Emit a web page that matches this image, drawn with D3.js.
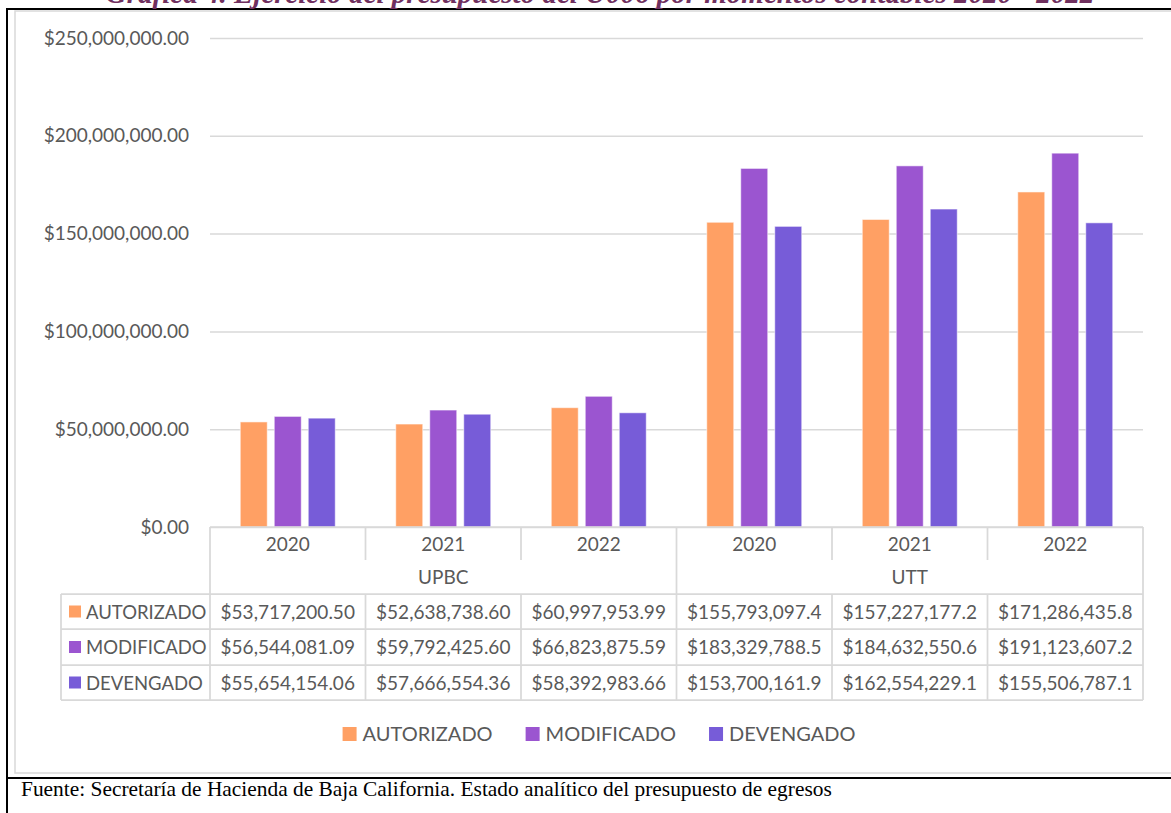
<!DOCTYPE html>
<html>
<head>
<meta charset="utf-8">
<script src="https://cdn.jsdelivr.net/npm/d3@7/dist/d3.min.js"></script>
<style>
  html, body { margin: 0; padding: 0; background: #fff; }
  svg { display: block; }
</style>
</head>
<body>
<svg id="chart" width="1171" height="813"></svg>
<script>
// datos
const groups = ['UPBC', 'UTT'];
const years = ['2020', '2021', '2022'];
const seriesNames = ['AUTORIZADO', 'MODIFICADO', 'DEVENGADO'];
const seriesColors = ['#FFA064', '#9B55D0', '#775CD8'];
const autorizado = [53717200.50, 52638738.60, 60997953.99, 155793097.4, 157227177.2, 171286435.8];
const modificado = [56544081.09, 59792425.60, 66823875.59, 183329788.5, 184632550.6, 191123607.2];
const devengado  = [55654154.06, 57666554.36, 58392983.66, 153700161.9, 162554229.1, 155506787.1];
const yTicks = [0, 50000000, 100000000, 150000000, 200000000, 250000000];

const seriesValues = [autorizado, modificado, devengado];
const cats = groups.flatMap(g => years.map(y => g + '|' + y));

const W = 1171, H = 813;
const plotL = 210, plotR = 1143, plotT = 38, plotB = 527;
const tableL = 61;
const rowY = [594, 629, 665, 700];
const gridColor = '#d9d9d9';
const textColor = '#595959';
const font = 'Lato, "Open Sans", sans-serif';

const svg = d3.select('#chart');

// marco de la tabla del documento
svg.append('line').attr('x1', 6).attr('x2', W).attr('y1', 9).attr('y2', 9)
  .attr('stroke', '#000').attr('stroke-width', 2);
svg.append('line').attr('x1', 7).attr('x2', 7).attr('y1', 8).attr('y2', H)
  .attr('stroke', '#000').attr('stroke-width', 2);
svg.append('line').attr('x1', 6).attr('x2', W).attr('y1', 778).attr('y2', 778)
  .attr('stroke', '#000').attr('stroke-width', 2);

// borde del area del grafico
svg.append('rect').attr('x', 15).attr('y', 11).attr('width', 1175).attr('height', 762)
  .attr('fill', 'none').attr('stroke', gridColor).attr('stroke-width', 1.5);

// titulo (cortado arriba, como en el documento)
svg.append('text')
  .attr('x', 600).attr('y', 3)
  .attr('text-anchor', 'middle')
  .attr('font-family', '"Liberation Serif", "Times New Roman", serif')
  .attr('font-size', '29px').attr('font-weight', 'bold').attr('font-style', 'italic')
  .attr('fill', '#70305F')
  .text('Gráfica 4. Ejercicio del presupuesto del U006 por momentos contables 2020 - 2022');

const y = d3.scaleLinear().domain([0, 250000000]).range([plotB, plotT]);
const x0 = d3.scaleBand().domain(cats).range([plotL, plotR]);
const xs = d3.scaleBand().domain(seriesNames).range([0, x0.bandwidth()])
  .paddingInner(0.206).paddingOuter(0.89);

const money2 = d3.format(',.2f');
const money1 = d3.format(',.1f');
const fmtAxis = v => '$' + money2(v);
// la celda de Excel recorta los montos grandes a un decimal
const fmtCell = v => '$' + (v >= 100000000 ? money1(v) : money2(v));

// eje y + lineas de cuadricula
const yAxis = svg.append('g')
  .attr('transform', `translate(${plotL},0)`)
  .call(d3.axisLeft(y).tickValues(yTicks).tickFormat(fmtAxis)
    .tickSize(-(plotR - plotL)).tickPadding(21));
yAxis.select('.domain').remove();
yAxis.selectAll('line').attr('stroke', gridColor).attr('stroke-width', 1.5);
yAxis.selectAll('text').attr('fill', textColor).attr('font-size', '19px').attr('font-family', font);

// barras
const barData = cats.flatMap((c, i) => seriesNames.map((s, j) => ({ cat: c, s, v: seriesValues[j][i], color: seriesColors[j] })));
svg.append('g').selectAll('rect').data(barData).join('rect')
  .attr('x', d => x0(d.cat) + xs(d.s))
  .attr('y', d => y(d.v))
  .attr('width', xs.bandwidth())
  .attr('height', d => y(0) - y(d.v))
  .attr('fill', d => d.color)
  .attr('stroke', '#fff').attr('stroke-opacity', 0.55).attr('stroke-width', 1);

// tabla de datos
const tbl = svg.append('g')
  .attr('stroke', gridColor).attr('stroke-width', 1.75).attr('fill', 'none');

tbl.append('line').attr('x1', plotL).attr('x2', plotR).attr('y1', plotB).attr('y2', plotB);
rowY.forEach(ry => tbl.append('line').attr('x1', tableL).attr('x2', plotR).attr('y1', ry).attr('y2', ry));

// separadores verticales
const bounds = cats.map(c => x0(c)).concat([plotR]);
bounds.forEach((bx, i) => {
  const isGroupEdge = i % years.length === 0;
  tbl.append('line').attr('x1', bx).attr('x2', bx)
    .attr('y1', plotB)
    .attr('y2', isGroupEdge ? rowY[3] : 560);
  if (!isGroupEdge) {
    tbl.append('line').attr('x1', bx).attr('x2', bx).attr('y1', rowY[0]).attr('y2', rowY[3]);
  }
});
tbl.append('line').attr('x1', tableL).attr('x2', tableL).attr('y1', rowY[0]).attr('y2', rowY[3]);

const txt = svg.append('g')
  .attr('font-family', font).attr('font-size', '19px').attr('fill', textColor);

// anios
txt.selectAll('text.year').data(cats).join('text').attr('class', 'year')
  .attr('x', c => x0(c) + x0.bandwidth() / 2).attr('y', 551)
  .attr('text-anchor', 'middle')
  .text(c => c.split('|')[1]);

// grupos
txt.selectAll('text.group').data(groups).join('text').attr('class', 'group')
  .attr('x', g => x0(g + '|' + years[0]) + x0.bandwidth() * years.length / 2).attr('y', 584)
  .attr('text-anchor', 'middle')
  .text(g => g);

// filas
seriesNames.forEach((s, j) => {
  const mid = (rowY[j] + rowY[j + 1]) / 2;
  svg.append('rect').attr('x', 69).attr('y', mid - 6).attr('width', 12).attr('height', 12)
    .attr('fill', seriesColors[j]);
  txt.append('text').attr('x', 86).attr('y', mid + 7).attr('font-size', '18.5px').text(s);
  cats.forEach((c, i) => {
    txt.append('text')
      .attr('x', x0(c) + x0.bandwidth() / 2).attr('y', mid + 7)
      .attr('text-anchor', 'middle')
      .text(fmtCell(seriesValues[j][i]));
  });
});

// leyenda
const leg = svg.append('g').attr('font-family', font).attr('font-size', '20px').attr('fill', textColor);
let lx = 0;
seriesNames.forEach((s, j) => {
  const g = leg.append('g');
  g.append('rect').attr('x', 0).attr('y', -14).attr('width', 14).attr('height', 14).attr('fill', seriesColors[j]);
  const t = g.append('text').attr('x', 20).attr('y', 0).text(s);
  const w = 20 + t.node().getComputedTextLength();
  g.attr('transform', `translate(${lx},0)`);
  lx += w + 33;
});
const legW = lx - 33;
leg.attr('transform', `translate(${599 - legW / 2},741)`);

// fuente
svg.append('text')
  .attr('x', 21).attr('y', 796)
  .attr('font-family', '"Liberation Serif", "Times New Roman", serif')
  .attr('font-size', '21.4px').attr('fill', '#000')
  .text('Fuente: Secretaría de Hacienda de Baja California. Estado analítico del presupuesto de egresos');
</script>
</body>
</html>
